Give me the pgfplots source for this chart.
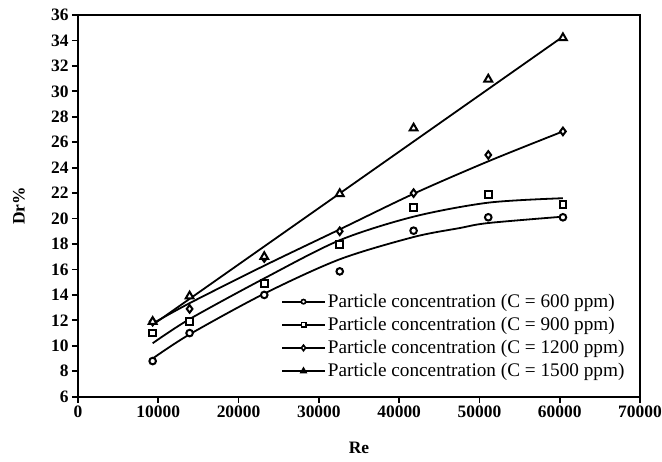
\documentclass[border=0pt]{standalone}
\usepackage{fontspec}
\setmainfont{Liberation Serif}
\usepackage{pgfplots}
\pgfplotsset{compat=1.18}

\begin{document}
\begin{tikzpicture}[font=\fontsize{17}{20}\selectfont]
\begin{axis}[
  scale only axis, width=562bp, height=381.7bp,
  xmin=0, xmax=70000, ymin=6, ymax=36,
  xtick={0,10000,...,70000}, ytick={6,8,...,36},
  scaled x ticks=false,
  xticklabel style={/pgf/number format/1000 sep={}},
  /pgf/number format/assume math mode=true,
  ticklabel style={font=\fontsize{17.5}{20}\selectfont\bfseries},
  tick pos=left, tick align=outside, major tick length=6bp,
  axis line style={line width=2.2bp},
  every tick/.style={black, line width=1.8bp},
  label style={font=\fontsize{17.5}{20}\selectfont\bfseries},
  xlabel={Re}, ylabel={Dr\%},
  xlabel style={at={(axis description cs:0.5,-0.134)}, anchor=center},
  ylabel style={at={(axis description cs:-0.105,0.5)}, anchor=center},
  legend style={draw=none, fill=none, at={(axis cs:24900,14.38)}, anchor=north west,
    font=\fontsize{19.3}{21}\selectfont, row sep=4.3bp, cells={anchor=west}},
  legend image code/.code={\draw[mark repeat=2,mark phase=2,#1] plot coordinates {(0bp,0bp) (21.5bp,0bp) (43bp,0bp)};},
  every axis plot/.append style={black},
]
% fitted curves
\addplot[line width=1.8bp, smooth, forget plot] coordinates {(9300,9.0)(13900,10.9)(23200,14.1)(32600,16.8)(41800,18.55)(47500,19.25)(51100,19.65)(60400,20.15)};
\addplot[line width=1.8bp, smooth, forget plot] coordinates {(9300,10.2)(13900,12.1)(23200,15.3)(32600,18.3)(41800,20.15)(51100,21.25)(60400,21.6)};
\addplot[line width=1.8bp, smooth, forget plot] coordinates {(9300,11.75)(13900,13.35)(23200,16.3)(32600,19.15)(41800,21.95)(51100,24.5)(60400,26.85)};
\addplot[line width=1.8bp, forget plot] coordinates {(9300,11.65)(60400,34.3)};
% measured points
\addplot[only marks, mark=*, mark size=3.3bp, mark options={fill=white, line width=2bp}, forget plot] coordinates {(9300,8.8)(13900,11.0)(23200,14.0)(32600,15.85)(41800,19.05)(51100,20.1)(60400,20.1)};
\addplot[only marks, mark=square*, mark size=3.3bp, mark options={fill=white, line width=2bp}, forget plot] coordinates {(9300,11.0)(13900,11.9)(23200,14.9)(32600,17.95)(41800,20.85)(51100,21.9)(60400,21.1)};
\addplot[only marks, mark=diamond*, mark size=3.8bp, mark options={fill=white, line width=2bp}, forget plot] coordinates {(9300,11.9)(13900,12.9)(23200,16.9)(32600,19.0)(41800,22.0)(51100,25.0)(60400,26.85)};
\addplot[only marks, mark=triangle*, mark size=4.5bp, mark options={fill=white, line width=2bp}, forget plot] coordinates {(9300,11.9)(13900,13.9)(23200,17.0)(32600,21.95)(41800,27.1)(51100,30.95)(60400,34.2)};
% legend
\addlegendimage{line width=1.8bp, mark=*, mark size=2.2bp, mark options={fill=white, line width=1.6bp}}
\addlegendentry{Particle concentration (C = 600 ppm)}
\addlegendimage{line width=1.8bp, mark=square*, mark size=2.2bp, mark options={fill=white, line width=1.6bp}}
\addlegendentry{Particle concentration (C = 900 ppm)}
\addlegendimage{line width=1.8bp, mark=diamond*, mark size=2.8bp, mark options={fill=white, line width=1.6bp}}
\addlegendentry{Particle concentration (C = 1200 ppm)}
\addlegendimage{line width=1.8bp, mark=triangle*, mark size=3.3bp, mark options={fill=black, line width=1.2bp}}
\addlegendentry{Particle concentration (C = 1500 ppm)}
\end{axis}
\pgfresetboundingbox
\path ([xshift=-78bp,yshift=-65.3bp]current axis.south west) rectangle ([xshift=22bp,yshift=15bp]current axis.north east);
\end{tikzpicture}
\end{document}
